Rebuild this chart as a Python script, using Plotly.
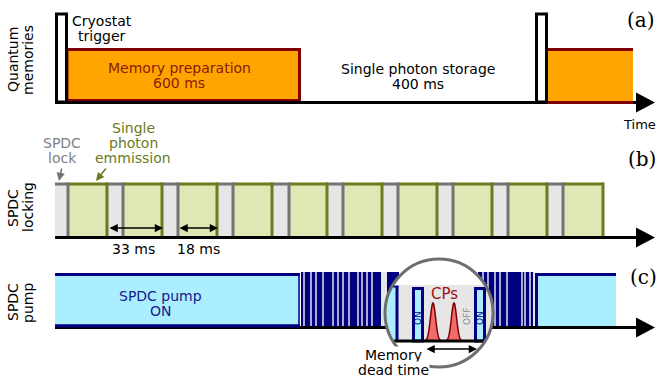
import numpy as np
import plotly.graph_objects as go

# ---------------- data (time axis units) ----------------
# (a) Quantum memories
trigger_starts = [55, 535]
trigger_ends = [67, 547]
prep_starts = [67, 547]
prep_ends = [301, 633]

# (b) SPDC locking
lock_starts = [55, 108, 163, 218, 273, 328, 383, 438, 493, 548]
emission_starts = [68, 123, 178, 233, 289, 343, 398, 453, 508, 563]
emission_ends = [108, 163, 218, 273, 328, 383, 438, 493, 548, 604]
period_span = [108, 163]     # 33 ms
emission_span = [178, 218]   # 18 ms

# (c) SPDC pump
pump_on_starts = [55, 535]
pump_on_ends = [300, 616]
train_starts = [300, 477]
train_ends = [399, 533]
train_gaps = [304, 311, 316, 323, 333, 338, 343, 349, 358, 362, 367, 372,
              483, 488, 495, 500, 507, 522, 525, 530]
wide_gap = [381, 387]
zoom_on_starts = [412, 474]
zoom_on_ends = [424, 486]
cp_centers = [433, 454]
dead_time = [425, 477]

# ---------------- styles ----------------
FONT = "DejaVu Sans"
SERIF = "DejaVu Serif"
BLACK = "#000000"
ORANGE = "#FFA500"
DRED = "#800000"
PREP_TXT = "#8B1A00"
LGRAY = "#E6E6E6"
GRAY = "#737373"
GREEN = "#DFE8B5"
OLIVE = "#6B7B1F"
NAVY = "#000080"
LBLUE = "#AAEEFF"
GAP = "#E4E4EE"

# rows (vertical layout)
A_TOP, A_PREP, A_BASE = 14, 48, 102
B_TOP, B_BASE = 184, 237
C_TOP, C_BASE = 273, 327
X0, X_ARROW, X_TIP = 55, 636, 655

shapes = []
annotations = []


def rect(x0, x1, y0, y1, fill, line=None, lw=0):
    shapes.append(dict(type="rect", xref="x", yref="y", x0=x0, x1=x1, y0=y0, y1=y1,
                       fillcolor=fill, line=dict(color=line or fill, width=lw)))


def seg(x0, y0, x1, y1, color, w):
    shapes.append(dict(type="line", xref="x", yref="y", x0=x0, y0=y0, x1=x1, y1=y1,
                       line=dict(color=color, width=w)))


def poly(pts, fill, line=None, lw=0):
    d = "M " + " L ".join(f"{x:.2f},{y:.2f}" for x, y in pts) + " Z"
    shapes.append(dict(type="path", xref="x", yref="y", path=d, fillcolor=fill,
                       line=dict(color=line or fill, width=lw)))


def text(x, y, s, size=14, color=BLACK, angle=0, family=FONT, bg=None):
    a = dict(x=x, y=y, xref="x", yref="y", text=s, showarrow=False,
             font=dict(family=family, size=size, color=color), textangle=angle,
             xanchor="center", yanchor="middle", borderpad=0)
    if bg:
        a["bgcolor"] = bg
    annotations.append(a)


def arrow(xh, yh, xt, yt, color, both=False, w=1.5):
    annotations.append(dict(x=xh, y=yh, ax=xt, ay=yt, xref="x", yref="y", axref="x", ayref="y",
                            text="", showarrow=True, arrowhead=2, arrowsize=1.1, arrowwidth=w,
                            arrowcolor=color, arrowside="end+start" if both else "end",
                            standoff=0, startstandoff=0))


def axis_arrow(y):
    seg(X0, y, X_ARROW + 2, y, BLACK, 3)
    poly([(X_ARROW, y - 10), (X_TIP, y), (X_ARROW, y + 10)], BLACK)


# ---------------- (a) quantum memories ----------------
for s, e in zip(prep_starts[:1], prep_ends[:1]):
    rect(s, e - 1.5, A_PREP + 1.5, A_BASE - 1.5, ORANGE, DRED, 3)
for s, e in zip(prep_starts[1:], prep_ends[1:]):
    rect(s, e, A_PREP, A_BASE, ORANGE)
    seg(s, A_PREP + 1.5, e, A_PREP + 1.5, DRED, 3)
axis_arrow(A_BASE + 0.5)
for s, e in zip(prep_starts[1:], prep_ends[1:]):
    seg(s, A_BASE + 0.5, e, A_BASE + 0.5, DRED, 3)
for s, e in zip(trigger_starts, trigger_ends):
    rect(s + 1.5, e - 0.5, A_TOP, A_BASE, "white", BLACK, 3)

# ---------------- (b) SPDC locking ----------------
for ls, es, ee in zip(lock_starts, emission_starts, emission_ends):
    rect(ls, es, B_TOP, B_BASE, LGRAY)
    rect(es, ee, B_TOP, B_BASE, GREEN)
for ls, es, ee in zip(lock_starts, emission_starts, emission_ends):
    seg(ls, B_TOP, es, B_TOP, GRAY, 3)
    seg(es, B_TOP, ee, B_TOP, OLIVE, 3)
for ls, es, ee in zip(lock_starts, emission_starts, emission_ends):
    seg(es, B_TOP - 1.5, es, B_BASE, GRAY, 3)
    seg(ee - 1, B_TOP - 1.5, ee - 1, B_BASE, OLIVE, 3)
axis_arrow(B_BASE + 0.5)

# ---------------- (c) SPDC pump ----------------
# continuous pump blocks
rect(pump_on_starts[0], pump_on_ends[0], C_TOP, C_BASE, LBLUE)
seg(pump_on_starts[0], C_TOP + 1.5, pump_on_ends[0], C_TOP + 1.5, NAVY, 3)
seg(pump_on_starts[0], C_BASE - 1, pump_on_ends[0], C_BASE - 1, NAVY, 3)
seg(pump_on_ends[0] - 1, C_TOP, pump_on_ends[0] - 1, C_BASE, NAVY, 1.5)
rect(pump_on_starts[1], pump_on_ends[1], C_TOP, C_BASE, LBLUE)
seg(pump_on_starts[1], C_TOP + 1.5, pump_on_ends[1], C_TOP + 1.5, NAVY, 3)
seg(pump_on_starts[1] + 1.5, C_TOP, pump_on_starts[1] + 1.5, C_BASE, NAVY, 3)
# pulsed train
for s, e in zip(train_starts, train_ends):
    rect(s + 1, e, C_TOP - 1, C_BASE, NAVY)
for g in train_gaps:
    seg(g, C_TOP - 1, g, C_BASE, GAP, 1.5)
rect(wide_gap[0], wide_gap[1], C_TOP - 1, C_BASE, LGRAY)
seg(train_ends[0], C_BASE, train_starts[1], C_BASE, LGRAY, 1)
rect(train_ends[1], pump_on_starts[1], C_TOP - 1, C_BASE, LGRAY)
axis_arrow(C_BASE + 0.5)
seg(pump_on_starts[0], C_BASE - 1, pump_on_ends[0], C_BASE - 1, NAVY, 3)

# magnifier
cx, cy, r = 439, 313, 54
Z_TOP, Z_BASE = 285, 341


def hw(y):
    return np.sqrt(max(r * r - (y - cy) ** 2, 0.0))


shapes.append(dict(type="circle", xref="x", yref="y", x0=cx - r, x1=cx + r, y0=cy - r, y1=cy + r,
                   fillcolor="white", line=dict(width=0)))
ys = np.linspace(Z_TOP, Z_BASE, 40)
poly([(cx - hw(y), y) for y in ys] + [(cx + hw(y), y) for y in ys[::-1]], LGRAY)
# left partially visible pulse
ys2 = np.linspace(Z_TOP + 1, Z_BASE, 40)
poly([(cx - hw(y), y) for y in ys2] + [(396, Z_BASE), (396, Z_TOP + 1)], LBLUE)
seg(397, Z_TOP + 1, 397, Z_BASE, NAVY, 3)
seg(cx - hw(Z_TOP + 1.5), Z_TOP + 1.5, 398.5, Z_TOP + 1.5, NAVY, 2)
# ON pulses
for s, e in zip(zoom_on_starts, zoom_on_ends):
    rect(s + 1.5, e - 1.5, Z_TOP + 3.5, Z_BASE, LBLUE, NAVY, 3)
# control pulses
for c in cp_centers:
    xs = np.linspace(c - 9, c + 9, 61)
    yv = Z_BASE - 38 * np.exp(-0.5 * ((xs - c) / 2.6) ** 2)
    poly(list(zip(xs, yv)), "#F26B6B", DRED, 1.5)
seg(cx - hw(Z_BASE) + 1, Z_BASE, cx + hw(Z_BASE) - 1, Z_BASE, BLACK, 3)
shapes.append(dict(type="circle", xref="x", yref="y", x0=cx - r, x1=cx + r, y0=cy - r, y1=cy + r,
                   line=dict(color="#6E6E6E", width=3)))

# ---------------- text ----------------
# row labels
text(13, 60, "Quantum", angle=-90)
text(28, 60, "memories", angle=-90)
text(13, 208, "SPDC", angle=-90)
text(28, 207, "locking", angle=-90)
text(13, 302, "SPDC", angle=-90)
text(28, 303, "pump", angle=-90)

# (a)
text(102, 21, "Cryostat")
text(102, 36, "trigger")
text(179, 68, "Memory preparation", color=PREP_TXT)
text(179, 83, "600 ms", color=PREP_TXT)
text(418, 69, "Single photon storage")
text(418, 84, "400 ms")
text(639, 124, "Time", size=13)
text(641, 20, "(a)", size=20, family=SERIF)

# (b)
text(62, 143, "SPDC", color="#7F7F7F")
text(62, 158, "lock", color="#7F7F7F")
arrow(59, 181, 62, 167, GRAY)
text(133, 128, "Single", color=OLIVE)
text(133, 143, "photon", color=OLIVE)
text(133, 158, "emmission", color=OLIVE)
arrow(96, 181, 107, 167, OLIVE)
arrow(period_span[1], 228, period_span[0], 228, BLACK, both=True)
arrow(emission_span[1], 228, emission_span[0], 228, BLACK, both=True)
text(133, 249, "33 ms")
text(198, 249, "18 ms")
text(642, 159, "(b)", size=20, family=SERIF)

# (c)
text(160, 296, "SPDC pump", color="#1A1A8C")
text(161, 311, "ON", color="#1A1A8C")
for s, e in zip(zoom_on_starts, zoom_on_ends):
    text((s + e) / 2, 318, "ON", size=9, color=NAVY, angle=-90)
text(467, 317, "OFF", size=9, color="#8C8C8C", angle=-90)
text(444, 294, "CPs", size=15, color="#A01010")
arrow(dead_time[1], 349, dead_time[0], 349, BLACK, both=True)
text(393, 355, "Memory", bg="white")
text(393, 370, "dead time", bg="white")
text(643, 277, "(c)", size=20, family=SERIF)

fig = go.Figure(go.Scatter(x=[0], y=[0], mode="markers", marker=dict(opacity=0),
                           hoverinfo="skip", showlegend=False))
fig.update_layout(
    width=662, height=379, margin=dict(l=0, r=0, t=0, b=0),
    paper_bgcolor="white", plot_bgcolor="white",
    xaxis=dict(range=[0, 662], visible=False, fixedrange=True),
    yaxis=dict(range=[379, 0], visible=False, fixedrange=True),
    shapes=shapes, annotations=annotations, showlegend=False,
)
fig.write_html("out.html", config={"displayModeBar": False})
